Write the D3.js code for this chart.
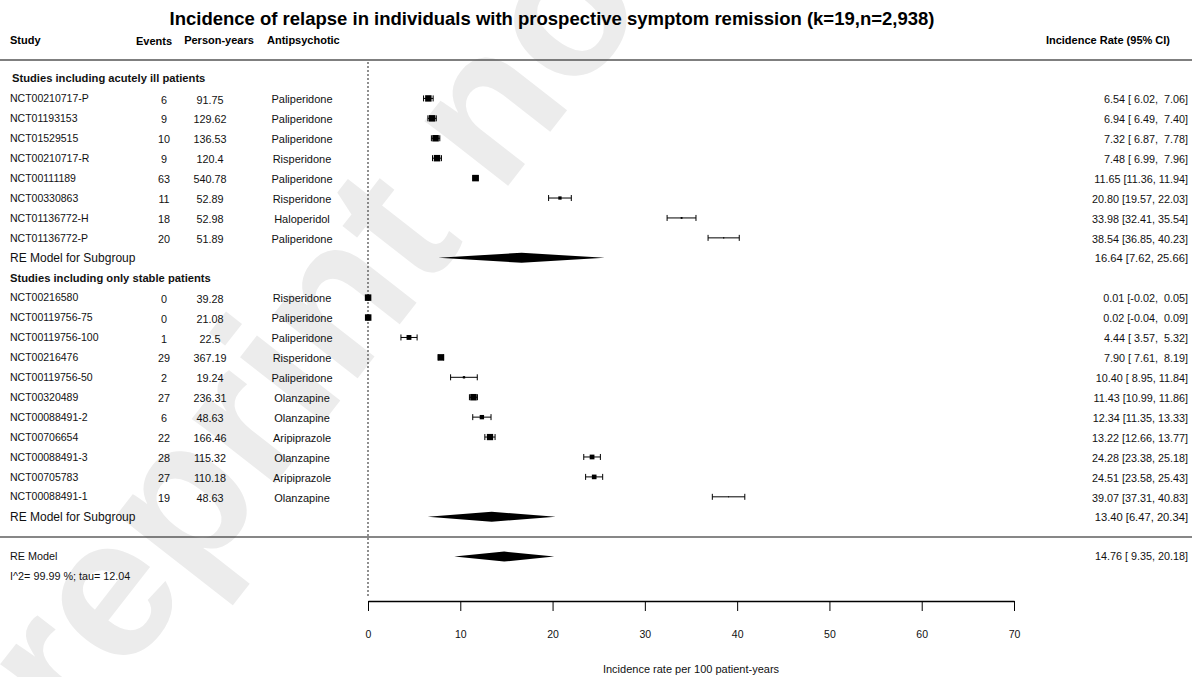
<!DOCTYPE html>
<html>
<head>
<meta charset="utf-8">
<script src="https://cdn.jsdelivr.net/npm/d3@7"></script>
<style>
    body { margin: 0; background: #fff; }
    svg { display: block; font-family: Arial, "Liberation Sans", Helvetica, sans-serif; }
    text { white-space: pre; }
</style>
</head>
<body>
<div id="chart"></div>
<script>
// 森林图数据
const STUDIES = ['NCT00210717-P', 'NCT01193153', 'NCT01529515', 'NCT00210717-R', 'NCT00111189',
    'NCT00330863', 'NCT01136772-H', 'NCT01136772-P',
    'NCT00216580', 'NCT00119756-75', 'NCT00119756-100', 'NCT00216476', 'NCT00119756-50',
    'NCT00320489', 'NCT00088491-2', 'NCT00706654', 'NCT00088491-3', 'NCT00705783', 'NCT00088491-1'];
const EVENTS = [6, 9, 10, 9, 63, 11, 18, 20, 0, 0, 1, 29, 2, 27, 6, 22, 28, 27, 19];
const PERSON_YEARS = [91.75, 129.62, 136.53, 120.4, 540.78, 52.89, 52.98, 51.89,
    39.28, 21.08, 22.5, 367.19, 19.24, 236.31, 48.63, 166.46, 115.32, 110.18, 48.63];
const DRUGS = ['Paliperidone', 'Paliperidone', 'Paliperidone', 'Risperidone', 'Paliperidone',
    'Risperidone', 'Haloperidol', 'Paliperidone',
    'Risperidone', 'Paliperidone', 'Paliperidone', 'Risperidone', 'Paliperidone',
    'Olanzapine', 'Olanzapine', 'Aripiprazole', 'Olanzapine', 'Aripiprazole', 'Olanzapine'];
const RATES = [6.54, 6.94, 7.32, 7.48, 11.65, 20.80, 33.98, 38.54,
    0.01, 0.02, 4.44, 7.90, 10.40, 11.43, 12.34, 13.22, 24.28, 24.51, 39.07];
const LOWER = [6.02, 6.49, 6.87, 6.99, 11.36, 19.57, 32.41, 36.85,
    -0.02, -0.04, 3.57, 7.61, 8.95, 10.99, 11.35, 12.66, 23.38, 23.58, 37.31];
const UPPER = [7.06, 7.40, 7.78, 7.96, 11.94, 22.03, 35.54, 40.23,
    0.05, 0.09, 5.32, 8.19, 11.84, 11.86, 13.33, 13.77, 25.18, 25.43, 40.83];

const GROUPS = ['Studies including acutely ill patients', 'Studies including only stable patients'];
const GROUP_SIZES = [8, 11];
const SUB_RATES = [16.64, 13.40];
const SUB_LOWER = [7.62, 6.47];
const SUB_UPPER = [25.66, 20.34];

const OVERALL = { rate: 14.76, lower: 9.35, upper: 20.18 };
const HETEROGENEITY = 'I^2= 99.99 %; tau= 12.04';
const X_TICKS = [0, 10, 20, 30, 40, 50, 60, 70];

const TITLE = 'Incidence of relapse in individuals with prospective symptom remission (k=19,n=2,938)';
const X_LABEL = 'Incidence rate per 100 patient-years';

function fmt(v) { return v.toFixed(2); }
function pad(v) { return fmt(v).padStart(5, ' '); }

function drawForest() {
    const width = 1192;
    const height = 677;

    const svg = d3.select('#chart')
        .append('svg')
        .attr('width', width)
        .attr('height', height);

    // 水印
    svg.append('text')
        .attr('transform', 'translate(0,836) rotate(-52)')
        .style('font-size', '200px')
        .style('font-weight', 'bold')
        .style('fill', '#ececec')
        .text('preprint not peer reviewed');

    // 比例尺
    const x = d3.scaleLinear().domain([0, 70]).range([368, 1014]);
    const row = d3.scaleLinear().domain([0, 25]).range([78.5, 576.5]);
    const boxSize = d3.scaleLinear().domain([1.0, 3.6]).range([6.5, 0.8]).clamp(true);

    // 标题和表头
    svg.append('text')
        .attr('x', 552).attr('y', 25)
        .attr('text-anchor', 'middle')
        .style('font-size', '18.5px').style('font-weight', 'bold')
        .text(TITLE);

    const head = svg.append('g').style('font-size', '11px').style('font-weight', 'bold');
    head.append('text').attr('x', 10).attr('y', 44).text('Study');
    head.append('text').attr('x', 154).attr('y', 45).attr('text-anchor', 'middle').text('Events');
    head.append('text').attr('x', 219).attr('y', 44).attr('text-anchor', 'middle').text('Person-years');
    head.append('text').attr('x', 267).attr('y', 44).text('Antipsychotic');
    head.append('text').attr('x', 1170).attr('y', 44).attr('text-anchor', 'end').text('Incidence Rate (95% CI)');

    svg.append('line')
        .attr('x1', 0).attr('x2', width).attr('y1', 60).attr('y2', 60)
        .attr('stroke', '#555').attr('stroke-width', 1.6);

    svg.append('line')
        .attr('x1', 0).attr('x2', width).attr('y1', 537).attr('y2', 537)
        .attr('stroke', '#111').attr('stroke-width', 1.2);

    // 零参考线
    svg.append('line')
        .attr('x1', x(0)).attr('x2', x(0)).attr('y1', 62).attr('y2', 598)
        .attr('stroke', '#555').attr('stroke-width', 1.3)
        .attr('stroke-dasharray', '2,2');

    const body = svg.append('g').style('font-size', '10.8px').style('fill', '#111');

    function diamond(y, est, lo, hi) {
        svg.append('polygon')
            .attr('points', [[x(lo), y], [x(est), y - 5], [x(hi), y], [x(est), y + 5]].join(' '))
            .attr('fill', '#000');
    }

    // 逐组绘制
    let idx = 0;
    let s = 0;
    GROUPS.forEach((g, gi) => {
        body.append('text')
            .attr('x', gi === 0 ? 12 : 10).attr('y', row(idx)).attr('dy', '0.35em')
            .style('font-size', '11.2px').style('font-weight', 'bold')
            .text(g);
        idx++;

        for (let k = 0; k < GROUP_SIZES[gi]; k++, s++, idx++) {
            const y = row(idx);
            body.append('text').attr('x', 10).attr('y', y).attr('dy', '0.35em')
                .style('font-size', '10.5px').text(STUDIES[s]);
            body.append('text').attr('x', 164).attr('y', y + 1.3).attr('dy', '0.35em')
                .attr('text-anchor', 'middle').text(EVENTS[s]);
            body.append('text').attr('x', 210).attr('y', y + 1.3).attr('dy', '0.35em')
                .attr('text-anchor', 'middle').text(String(PERSON_YEARS[s]));
            body.append('text').attr('x', 302).attr('y', y + 1).attr('dy', '0.35em')
                .attr('text-anchor', 'middle').style('font-size', '11px').text(DRUGS[s]);
            body.append('text').attr('x', 1188).attr('y', y + 1).attr('dy', '0.35em')
                .attr('text-anchor', 'end')
                .text(`${fmt(RATES[s])} [${pad(LOWER[s])}, ${pad(UPPER[s])}]`);

            // 置信区间
            const ci = svg.append('g').attr('stroke', '#000').attr('stroke-width', 1);
            ci.append('line').attr('x1', x(LOWER[s])).attr('x2', x(UPPER[s])).attr('y1', y).attr('y2', y);
            ci.append('line').attr('x1', x(LOWER[s])).attr('x2', x(LOWER[s])).attr('y1', y - 3).attr('y2', y + 3);
            ci.append('line').attr('x1', x(UPPER[s])).attr('x2', x(UPPER[s])).attr('y1', y - 3).attr('y2', y + 3);

            const b = boxSize(UPPER[s] - LOWER[s]);
            svg.append('rect')
                .attr('x', x(RATES[s]) - b / 2).attr('y', y - b / 2)
                .attr('width', b).attr('height', b)
                .attr('fill', '#000');
        }

        // 亚组汇总
        const y = row(idx);
        body.append('text').attr('x', 10).attr('y', y).attr('dy', '0.35em')
            .style('font-size', '12px').text('RE Model for Subgroup');
        body.append('text').attr('x', 1188).attr('y', y).attr('dy', '0.35em')
            .attr('text-anchor', 'end').style('font-size', '11.2px')
            .text(`${fmt(SUB_RATES[gi])} [${fmt(SUB_LOWER[gi])}, ${fmt(SUB_UPPER[gi])}]`);
        diamond(y, SUB_RATES[gi], SUB_LOWER[gi], SUB_UPPER[gi]);
        idx++;
    });

    // 总体模型
    const yAll = row(24);
    body.append('text').attr('x', 10).attr('y', yAll).attr('dy', '0.35em').text('RE Model');
    body.append('text').attr('x', 10).attr('y', row(25)).attr('dy', '0.35em').text(HETEROGENEITY);
    body.append('text').attr('x', 1188).attr('y', yAll).attr('dy', '0.35em')
        .attr('text-anchor', 'end')
        .text(`${fmt(OVERALL.rate)} [${pad(OVERALL.lower)}, ${pad(OVERALL.upper)}]`);
    diamond(yAll, OVERALL.rate, OVERALL.lower, OVERALL.upper);

    // X 轴
    const axis = svg.append('g')
        .attr('transform', 'translate(0,601)')
        .call(d3.axisBottom(x).tickValues(X_TICKS).tickSize(10).tickPadding(20).tickSizeOuter(0));
    axis.select('.domain').attr('stroke', '#000').attr('stroke-width', 1.3);
    axis.selectAll('.tick line').attr('stroke', '#000');
    axis.selectAll('.tick text')
        .style('font-size', '10.5px')
        .style('font-family', 'Arial, "Liberation Sans", sans-serif')
        .attr('fill', '#111');

    svg.append('text')
        .attr('x', (x(0) + x(70)) / 2).attr('y', 673)
        .attr('text-anchor', 'middle')
        .style('font-size', '11px').style('fill', '#111')
        .text(X_LABEL);
}

document.addEventListener('DOMContentLoaded', drawForest);
</script>
</body>
</html>
